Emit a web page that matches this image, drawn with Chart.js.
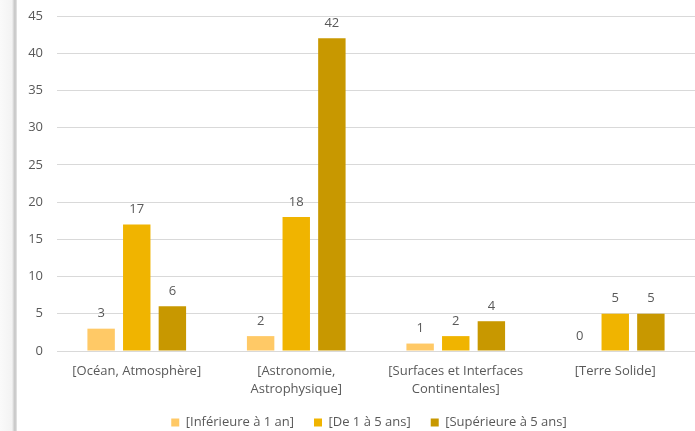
<!DOCTYPE html>
<html><head><meta charset="utf-8">
<script src="https://cdn.jsdelivr.net/npm/chart.js@4"></script>
<style>
html,body{margin:0;padding:0;background:#fff;}
#wrap{position:relative;width:695px;height:431px;}
#edge{position:absolute;left:0;top:0;width:17px;height:431px;background:linear-gradient(to right,#fafafa 0,#f3f3f3 12px,#d0d0d0 14px,#c4c4c4 15px,#e8e8e8 17px);}
canvas{position:absolute;left:0;top:0;}
</style></head>
<body><div id="wrap"><div id="edge"></div><canvas id="c" width="695" height="431"></canvas></div>
<script>
const categories = [["[Océan, Atmosphère]"], ["[Astronomie,", "Astrophysique]"], ["[Surfaces et Interfaces", "Continentales]"], ["[Terre Solide]"]];
const seriesNames = ["[Inférieure à 1 an]", "[De 1 à 5 ans]", "[Supérieure à 5 ans]"];
const lessThan1 = [3, 2, 1, 0];
const from1to5 = [17, 18, 2, 5];
const moreThan5 = [6, 42, 4, 5];
const yTicks = [0, 5, 10, 15, 20, 25, 30, 35, 40, 45];
const colors = ["#FFC966", "#F0B400", "#C89800"];

const FONT = "Open Sans, sans-serif";
const TXT = "#595959";

const labelPlugin = {
  id: "valueLabels",
  afterLayout(chart) {
    // centre the legend under the plot area, as in the reference
    if (chart.legend) {
      chart.legend.left = chart.chartArea.left - 14;
    }
  },
  afterDatasetsDraw(chart) {
    const ctx = chart.ctx;
    ctx.save();
    ctx.font = "13px " + FONT;
    ctx.fillStyle = TXT;
    ctx.textAlign = "center";
    ctx.textBaseline = "middle";
    chart.data.datasets.forEach((ds, i) => {
      const meta = chart.getDatasetMeta(i);
      meta.data.forEach((bar, j) => {
        ctx.fillText(String(ds.data[j]), bar.x, bar.y - 15);
      });
    });
    ctx.restore();
  }
};

new Chart(document.getElementById("c"), {
  type: "bar",
  data: {
    labels: categories,
    datasets: [
      { label: seriesNames[0], data: lessThan1, backgroundColor: colors[0] },
      { label: seriesNames[1], data: from1to5, backgroundColor: colors[1] },
      { label: seriesNames[2], data: moreThan5, backgroundColor: colors[2] }
    ]
  },
  options: {
    responsive: false,
    animation: false,
    devicePixelRatio: 1,
    layout: { padding: { left: 17, right: 0, top: 16, bottom: -8 } },
    datasets: { bar: { categoryPercentage: 0.67, barPercentage: 0.77 } },
    scales: {
      x: {
        grid: { display: false, drawTicks: false },
        border: { display: false },
        ticks: { color: TXT, font: { family: FONT, size: 13, lineHeight: 1.35 }, padding: 12, maxRotation: 0, autoSkip: false },
        afterFit(s) { s.height = 45; }
      },
      y: {
        min: 0, max: 45,
        afterBuildTicks(s) { s.ticks = yTicks.map(v => ({ value: v })); },
        grid: { color: "#d9d9d9", drawTicks: false, lineWidth: 1 },
        border: { display: false },
        ticks: { color: TXT, font: { family: FONT, size: 13 }, padding: 14 },
        afterFit(s) { s.width = 40; s.paddingTop = 0; s.paddingBottom = 0; }
      }
    },
    plugins: {
      legend: {
        position: "bottom",
        labels: { color: TXT, font: { family: FONT, size: 13 }, boxWidth: 8, boxHeight: 8, padding: 20 }
      },
      tooltip: { enabled: false }
    }
  },
  plugins: [labelPlugin]
});
</script></body></html>
